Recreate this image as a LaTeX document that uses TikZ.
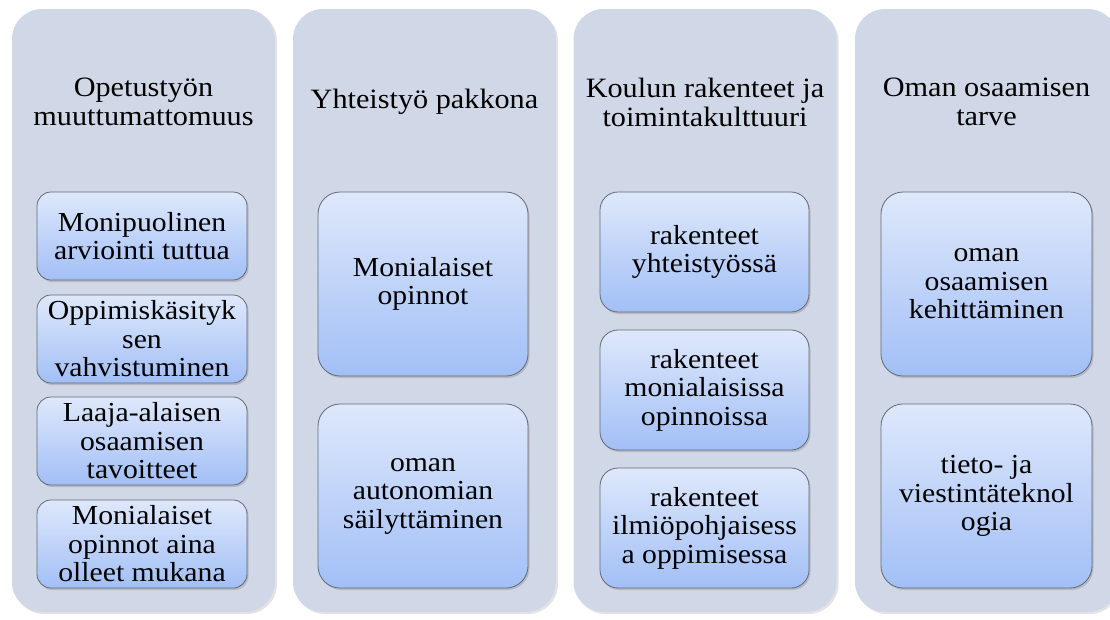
\documentclass[tikz,border=0pt]{standalone}
\usepackage{fontspec}
\setmainfont[FakeStretch=1.08]{Liberation Serif}
\usetikzlibrary{shadows}
\definecolor{colbg}{HTML}{D0D8E7}
\definecolor{boxtop}{HTML}{DEE8FB}
\definecolor{boxbot}{HTML}{A2BFF6}
\definecolor{boxline}{HTML}{646A75}
\tikzset{
  colpanel/.style={fill=colbg, rounded corners=30pt, minimum width=263pt, minimum height=603pt, inner sep=0pt,
    drop shadow={opacity=0.22, shadow xshift=2pt, shadow yshift=-2pt}},
  header/.style={align=center, font=\fontsize{28}{29}\selectfont, text=black, inner sep=0pt},
  itembox/.style={draw=boxline, line width=0.8pt, top color=boxtop, bottom color=boxbot,
    rounded corners=14pt, minimum width=210pt, align=center, inner sep=0pt,
    font=\fontsize{27.5}{28.5}\selectfont,
    drop shadow={opacity=0.35, shadow xshift=1.5pt, shadow yshift=-2pt}},
  bigbox/.style={itembox, rounded corners=22pt}
}
\begin{document}
\begin{tikzpicture}[x=1pt, y=-1pt]
\useasboundingbox (0,0) rectangle (1110,619);
\clip (0,0) rectangle (1110,619);
% columns
\node[colpanel] (c1) at (143.5,310.5) {};
\node[colpanel] (c2) at (424.5,310.5) {};
\node[colpanel] (c3) at (705,310.5) {};
\node[colpanel] (c4) at (986.5,310.5) {};
% headers
\node[header] (h1) at (143.5,102) {Opetustyön\\muuttumattomuus};
\node[header] (h2) at (424.5,102) {Yhteistyö pakkona};
\node[header] (h3) at (705,102) {Koulun rakenteet ja\\toimintakulttuuri};
\node[header] (h4) at (986.5,102) {Oman osaamisen\\tarve};
% column 1
\node[itembox, minimum height=88pt] (a1) at (142,236) {Monipuolinen\\arviointi tuttua};
\node[itembox, minimum height=88pt] (a2) at (142,339) {Oppimiskäsityk\\sen\\vahvistuminen};
\node[itembox, minimum height=88pt] (a3) at (142,441) {Laaja-alaisen\\osaamisen\\tavoitteet};
\node[itembox, minimum height=88pt] (a4) at (142,544) {Monialaiset\\opinnot aina\\olleet mukana};
% column 2
\node[bigbox, minimum height=184pt] (b1) at (423,284) {Monialaiset\\opinnot};
\node[bigbox, minimum height=184pt] (b2) at (423,496) {oman\\autonomian\\säilyttäminen};
% column 3
\node[itembox, rounded corners=18pt, minimum width=209pt, minimum height=120pt] (d1) at (704.5,252) {rakenteet\\yhteistyössä};
\node[itembox, rounded corners=18pt, minimum width=209pt, minimum height=120pt] (d2) at (704.5,390) {rakenteet\\monialaisissa\\opinnoissa};
\node[itembox, rounded corners=18pt, minimum width=209pt, minimum height=120pt] (d3) at (704.5,528) {rakenteet\\ilmiöpohjaisess\\a oppimisessa};
% column 4
\node[bigbox, minimum width=211pt, minimum height=184pt] (e1) at (986.5,284) {oman\\osaamisen\\kehittäminen};
\node[bigbox, minimum width=211pt, minimum height=184pt] (e2) at (986.5,496) {tieto- ja\\viestintäteknol\\ogia};
\end{tikzpicture}
\end{document}
